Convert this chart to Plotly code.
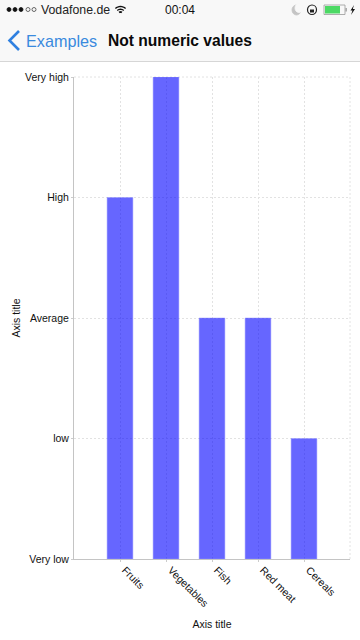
import math
import plotly.graph_objects as go

categories = ["Fruits", "Vegetables", "Fish", "Red meat", "Cereals"]
levels = ["Very low", "low", "Average", "High", "Very high"]
series_levels = ["High", "Very high", "Average", "Average", "low"]

W, H = 360, 640
L, R, T, B = 74, 350, 77, 559
FONT = "Liberation Sans"
GRID = "#e2e2e2"
DASH = "2px,2px"


def px(x):
    return (x - L) / (R - L)


def py(y):
    return (B - y) / (B - T)


def text(x, y, s, size, color="#111", anchor="left", bold=False, angle=0):
    return dict(
        xref="paper", yref="paper", x=px(x), y=py(y), text=f"<b>{s}</b>" if bold else s,
        showarrow=False, xanchor=anchor, yanchor="middle", textangle=angle,
        font=dict(family=FONT, size=size, color=color),
    )


def rect(x0, y0, x1, y1, fill, line=None, lw=0):
    return dict(
        type="rect", xref="paper", yref="paper", x0=px(x0), x1=px(x1), y0=py(y0), y1=py(y1),
        fillcolor=fill, line=dict(color=line or fill, width=lw), layer="above",
    )


def circle(x0, y0, x1, y1, fill, line, lw=0.8):
    return dict(
        type="circle", xref="paper", yref="paper", x0=px(x0), x1=px(x1), y0=py(y0), y1=py(y1),
        fillcolor=fill, line=dict(color=line, width=lw), layer="above",
    )


def poly(points, color, width=0, fill=None, closed=False):
    d = "M" + " L".join(f"{px(a):.5f},{py(b):.5f}" for a, b in points) + (" Z" if closed else "")
    return dict(
        type="path", xref="paper", yref="paper", path=d, fillcolor=fill or "rgba(0,0,0,0)",
        line=dict(color=color, width=width), layer="above",
    )


def wifi_arc(r):
    pts = []
    cx, cy = 120.5, 14
    for dx in range(-4, 5):
        a = dx / 4 * 0.75
        pts.append((cx + r * math.sin(a), cy - r * math.cos(a)))
    return pts


shapes = [
    rect(0, 0, 360, 61, "#f8f8f8"),
    rect(0, 61, 360, 62, "#d6d6d6"),
    # signal dots
    circle(7, 7.5, 11, 11.5, "#111", "#111"),
    circle(13, 7.5, 17, 11.5, "#111", "#111"),
    circle(19, 7.5, 23, 11.5, "#111", "#111"),
    circle(26, 7.5, 30, 11.5, "#f8f8f8", "#444"),
    circle(32, 7.5, 36, 11.5, "#f8f8f8", "#444"),
    # wifi
    poly(wifi_arc(7.5), "#111", 1.3),
    poly(wifi_arc(4.8), "#111", 1.3),
    poly(wifi_arc(2), "#111", 1.8),
    # moon
    circle(292, 5, 301, 15, "#c4c4c4", "#c4c4c4"),
    circle(295, 3.5, 303, 12.5, "#f8f8f8", "#f8f8f8"),
    # rotation lock
    circle(307.5, 5, 316.5, 14.5, "#f8f8f8", "#222", 1.2),
    rect(310, 9.5, 314, 12.5, "#222"),
    # battery
    rect(324, 5, 345, 14.5, "#f8f8f8", "#999", 0.8),
    rect(325, 6, 340, 13.5, "#4cd964"),
    rect(345.5, 8, 346.8, 11.5, "#999"),
    poly([(354, 5), (350.5, 10.5), (352.5, 10.5), (351, 15), (355, 9), (352.8, 9)], "#111", 0, "#111", True),
    # back chevron
    poly([(19, 31), (9.5, 40.5), (19, 50)], "#2f80e0", 2.6),
]

annotations = [
    text(39, 10, "Vodafone.de", 12.3, "#222"),
    text(180, 10, "00:04", 12, "#111", "center"),
    text(23.5, 40.5, "Examples", 16.2, "#3a8ade"),
    text(106, 40.5, "Not numeric values", 15.6, "#0a0a0a", bold=True),
]

fig = go.Figure(
    go.Bar(
        x=list(range(len(categories))),
        y=[levels.index(v) for v in series_levels],
        width=0.56,
        marker=dict(color="rgba(0,0,255,0.6)", line=dict(color="rgba(150,150,255,0.8)", width=0.6)),
        hoverinfo="skip",
    )
)

fig.update_layout(
    width=W,
    height=H,
    autosize=False,
    margin=dict(l=L, r=W - R, t=T, b=H - B, pad=0, autoexpand=False),
    paper_bgcolor="white",
    plot_bgcolor="white",
    showlegend=False,
    font=dict(family=FONT, size=10.5, color="#111"),
    shapes=shapes,
    annotations=annotations,
    xaxis=dict(
        range=[-1, 5],
        tickmode="array",
        tickvals=list(range(len(categories))),
        ticktext=categories,
        tickangle=45,
        ticks="outside",
        ticklen=2,
        tickcolor="#ccc",
        ticklabelshift=5,
        ticklabelstandoff=-2,
        showgrid=True,
        gridcolor=GRID,
        griddash=DASH,
        gridwidth=1,
        showline=True,
        linecolor="#c4c4c4",
        zeroline=False,
        automargin=False,
        title=dict(text="Axis title", standoff=12, font=dict(size=10.5)),
        fixedrange=True,
    ),
    yaxis=dict(
        range=[0, 4],
        tickmode="array",
        tickvals=list(range(len(levels))),
        ticktext=levels,
        ticks="outside",
        ticklen=2,
        tickcolor="#ccc",
        showgrid=True,
        gridcolor=GRID,
        griddash=DASH,
        gridwidth=1,
        showline=True,
        linecolor="#c4c4c4",
        zeroline=False,
        automargin=False,
        title=dict(text="Axis title", standoff=2, font=dict(size=10.5)),
        fixedrange=True,
    ),
)

# right and top edge gridlines
fig.add_shape(type="line", xref="paper", yref="paper", x0=1, x1=1, y0=0, y1=1,
              line=dict(color=GRID, width=1, dash=DASH), layer="below")
fig.add_shape(type="line", xref="paper", yref="paper", x0=0, x1=1, y0=1, y1=1,
              line=dict(color=GRID, width=1, dash=DASH), layer="below")

fig.write_html(
    "out.html",
    config=dict(displayModeBar=False),
    post_script="document.body.style.margin='0';document.documentElement.style.overflow='hidden';",
)
